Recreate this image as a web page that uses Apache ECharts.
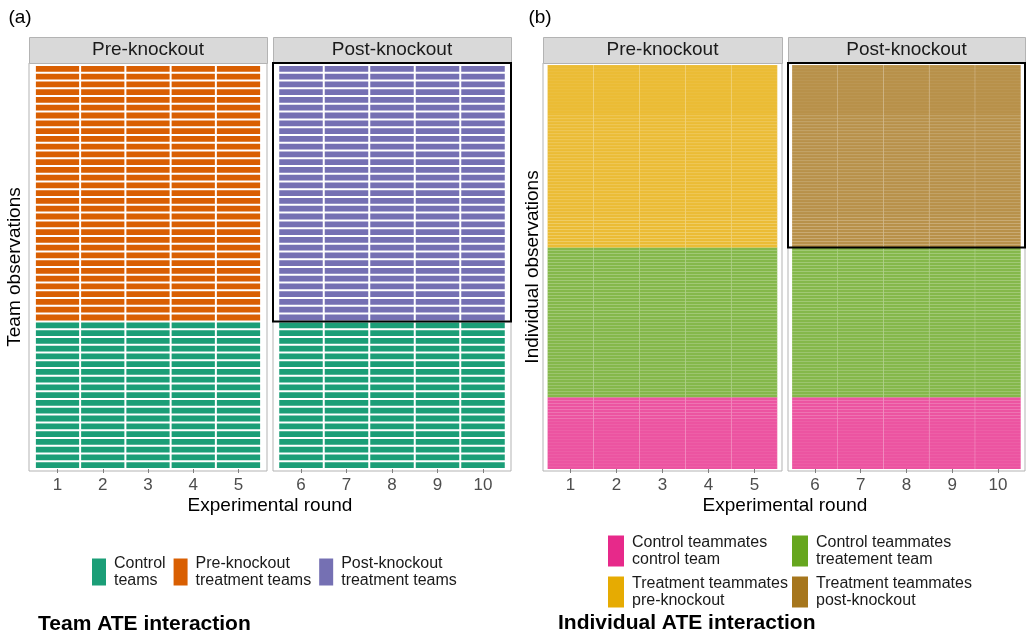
<!DOCTYPE html>
<html>
<head>
<meta charset="utf-8">
<script src="https://cdn.jsdelivr.net/npm/echarts@6/dist/echarts.min.js"></script>
<style>
  html, body { margin: 0; padding: 0; background: #fff; }
  #chart { width: 1026px; height: 634px; }
</style>
</head>
<body>
<div id="chart"></div>
<script>
// Experimental rounds in each phase
const preRounds = [1, 2, 3, 4, 5];
const postRounds = [6, 7, 8, 9, 10];

// Team observations (rows of panel a)
const controlTeams = 19;
const treatmentTeams = 33;

// Individual observations (rows of panel b)
const controlInControlTeam = 24;
const controlInTreatmentTeam = 50;
const treatmentTeammates = 61;

// Facet labels
const facetLabels = ['Pre-knockout', 'Post-knockout'];

// Legend entries
const teamGroups = ['Control teams', 'Pre-knockout treatment teams', 'Post-knockout treatment teams'];
const teamGroupLabels = ['Control\nteams', 'Pre-knockout\ntreatment teams', 'Post-knockout\ntreatment teams'];
const indGroups = ['Control teammates control team', 'Control teammates treatement team',
                   'Treatment teammates pre-knockout', 'Treatment teammates post-knockout'];
const indGroupLabels = ['Control teammates\ncontrol team', 'Control teammates\ntreatement team',
                        'Treatment teammates\npre-knockout', 'Treatment teammates\npost-knockout'];

// Dark2 palette
const teamColors = ['#1B9E77', '#D95F02', '#7570B3'];
const indColors = ['#E7298A', '#66A61E', '#E6AB02', '#A6761D'];

const FONT = '"Liberation Sans", Arial, Helvetica, sans-serif';

// one tile per (round, row)
function cells(rounds, rowStart, rowCount) {
  const out = [];
  rounds.forEach(r => {
    for (let i = rowStart; i < rowStart + rowCount; i++) out.push([r, i]);
  });
  return out;
}

const teamTotal = controlTeams + treatmentTeams;
const indTotal = controlInControlTeam + controlInTreatmentTeam + treatmentTeammates;

// facets: left edge and width of each
const panels = [
  { left: 29, width: 238, rounds: preRounds, rows: teamTotal },
  { left: 273, width: 238, rounds: postRounds, rows: teamTotal },
  { left: 543, width: 239, rounds: preRounds, rows: indTotal },
  { left: 788, width: 237, rounds: postRounds, rows: indTotal }
];
const PANEL_TOP = 63, PANEL_H = 408, PAD_PX = 2;

const grids = panels.map(p => ({
  left: p.left, top: PANEL_TOP, width: p.width, height: PANEL_H,
  show: true, borderColor: '#b3b3b3', borderWidth: 1, backgroundColor: '#fff'
}));

const xAxes = panels.map((p, i) => {
  const mid = (p.rounds[0] + p.rounds[p.rounds.length - 1]) / 2;
  const half = [2.63, 2.615, 2.6, 2.59][i];
  return {
    type: 'value', gridIndex: i, min: mid - half, max: mid + half,
    axisLine: { show: false },
    splitLine: { show: false },
    axisTick: { show: true, customValues: p.rounds, length: 4, lineStyle: { color: '#7f7f7f', width: 1 } },
    axisLabel: { customValues: p.rounds, fontSize: 17, color: '#4d4d4d', margin: 6, fontFamily: FONT }
  };
});

const yAxes = panels.map((p, i) => {
  const pad = PAD_PX * p.rows / (PANEL_H - 2 * PAD_PX);
  return {
    type: 'value', gridIndex: i, min: -pad, max: p.rows + pad,
    axisLine: { show: false }, axisTick: { show: false },
    axisLabel: { show: false }, splitLine: { show: false }
  };
});

// team tiles: solid with a white gutter
function teamTile(params, api) {
  const x = api.value(0), y = api.value(1);
  const a = api.coord([x - 0.5, y + 1]);
  const b = api.coord([x + 0.5, y]);
  return {
    type: 'rect',
    shape: { x: a[0] + 1, y: a[1] + 1, width: b[0] - a[0] - 2, height: b[1] - a[1] - 2 },
    style: { fill: api.visual('color') }
  };
}

// individual tiles: translucent with faint separators
function indTile(params, api) {
  const x = api.value(0), y = api.value(1);
  const a = api.coord([x - 0.5, y + 1]);
  const b = api.coord([x + 0.5, y]);
  return {
    type: 'group',
    children: [
      {
        type: 'rect',
        shape: { x: a[0], y: a[1], width: b[0] - a[0], height: b[1] - a[1] },
        style: { fill: api.visual('color'), opacity: 0.8 }
      },
      {
        type: 'line',
        shape: { x1: a[0], y1: a[1], x2: b[0], y2: a[1] },
        style: { stroke: 'rgba(255,255,255,0.2)', lineWidth: 0.6 }
      },
      {
        type: 'line',
        shape: { x1: b[0], y1: a[1], x2: b[0], y2: b[1] },
        style: { stroke: 'rgba(255,255,255,0.4)', lineWidth: 0.8 }
      }
    ]
  };
}

// outline of the treated block in the post-knockout facet
function treatedBox(params, api) {
  const cs = params.coordSys;
  const yb = api.coord([0, api.value(0)])[1];
  return {
    type: 'rect',
    shape: { x: cs.x, y: cs.y, width: cs.width, height: yb - cs.y },
    style: { fill: 'none', stroke: '#000', lineWidth: 2 },
    z2: 10
  };
}

function tileSeries(name, idx, color, data, render) {
  return {
    type: 'custom', name: name, xAxisIndex: idx, yAxisIndex: idx,
    renderItem: render, data: data, itemStyle: { color: color },
    silent: true, animation: false, clip: false
  };
}

const series = [
  // panel a
  tileSeries(teamGroups[0], 0, teamColors[0], cells(preRounds, 0, controlTeams), teamTile),
  tileSeries(teamGroups[1], 0, teamColors[1], cells(preRounds, controlTeams, treatmentTeams), teamTile),
  tileSeries(teamGroups[0], 1, teamColors[0], cells(postRounds, 0, controlTeams), teamTile),
  tileSeries(teamGroups[2], 1, teamColors[2], cells(postRounds, controlTeams, treatmentTeams), teamTile),
  // panel b
  tileSeries(indGroups[0], 2, indColors[0], cells(preRounds, 0, controlInControlTeam), indTile),
  tileSeries(indGroups[1], 2, indColors[1], cells(preRounds, controlInControlTeam, controlInTreatmentTeam), indTile),
  tileSeries(indGroups[2], 2, indColors[2], cells(preRounds, controlInControlTeam + controlInTreatmentTeam, treatmentTeammates), indTile),
  tileSeries(indGroups[0], 3, indColors[0], cells(postRounds, 0, controlInControlTeam), indTile),
  tileSeries(indGroups[1], 3, indColors[1], cells(postRounds, controlInControlTeam, controlInTreatmentTeam), indTile),
  tileSeries(indGroups[3], 3, indColors[3], cells(postRounds, controlInControlTeam + controlInTreatmentTeam, treatmentTeammates), indTile),
  // treated block outlines
  {
    type: 'custom', xAxisIndex: 1, yAxisIndex: 1, renderItem: treatedBox,
    data: [[controlTeams]], silent: true, z: 5, clip: false, animation: false
  },
  {
    type: 'custom', xAxisIndex: 3, yAxisIndex: 3, renderItem: treatedBox,
    data: [[controlInControlTeam + controlInTreatmentTeam]], silent: true, z: 5, clip: false, animation: false
  }
];

function labelFor(names, labels) {
  return name => labels[names.indexOf(name)];
}

const legendText = { fontSize: 16, color: '#1a1a1a', fontFamily: FONT, lineHeight: 17, padding: [0, 0, 0, 3] };

const legends = [
  {
    left: 92, top: 555, orient: 'horizontal', icon: 'rect', padding: 0,
    itemWidth: 14, itemHeight: 27, itemGap: 8, selectedMode: false,
    data: teamGroups, formatter: labelFor(teamGroups, teamGroupLabels), textStyle: legendText
  },
  {
    left: 608, top: 534, orient: 'vertical', icon: 'rect', padding: 0,
    itemWidth: 16, itemHeight: 31, itemGap: 7, selectedMode: false,
    data: [indGroups[0], indGroups[2]], formatter: labelFor(indGroups, indGroupLabels), textStyle: legendText
  },
  {
    left: 792, top: 534, orient: 'vertical', icon: 'rect', padding: 0,
    itemWidth: 16, itemHeight: 31, itemGap: 7, selectedMode: false,
    data: [indGroups[1], indGroups[3]], formatter: labelFor(indGroups, indGroupLabels), textStyle: legendText
  }
];

// facet strips, axis titles, panel tags and captions
const graphic = [];
panels.forEach((p, i) => {
  graphic.push({
    type: 'rect', left: p.left, top: 37, z: 1,
    shape: { width: p.width, height: 26 },
    style: { fill: '#d9d9d9', stroke: '#b3b3b3', lineWidth: 1 }
  });
  graphic.push({
    type: 'text', x: p.left + p.width / 2, y: 50, z: 2,
    style: { text: facetLabels[i % 2], fill: '#1a1a1a', fontSize: 19, fontFamily: FONT,
             align: 'center', verticalAlign: 'middle' }
  });
});
function addText(text, x, y, opts) {
  graphic.push({
    type: 'text', x: x, y: y, rotation: opts.rotation || 0, z: 2,
    style: Object.assign({ text: text, fill: '#000', fontSize: 19, fontFamily: FONT,
                           align: 'center', verticalAlign: 'middle' }, opts.style || {})
  });
}
addText('(a)', 20, 18, {});
addText('(b)', 540, 18, {});
addText('Experimental round', 270, 506, {});
addText('Experimental round', 785, 506, {});
addText('Team observations', 15, 267, { rotation: Math.PI / 2 });
addText('Individual observations', 533, 267, { rotation: Math.PI / 2 });
addText('Team ATE interaction', 38, 624, { style: { align: 'left', fontWeight: 'bold', fontSize: 21 } });
addText('Individual ATE interaction', 558, 623, { style: { align: 'left', fontWeight: 'bold', fontSize: 21 } });

const chart = echarts.init(document.getElementById('chart'), null, { renderer: 'canvas' });
chart.setOption({
  animation: false,
  backgroundColor: '#fff',
  grid: grids,
  xAxis: xAxes,
  yAxis: yAxes,
  legend: legends,
  series: series,
  graphic: graphic
});
</script>
</body>
</html>
